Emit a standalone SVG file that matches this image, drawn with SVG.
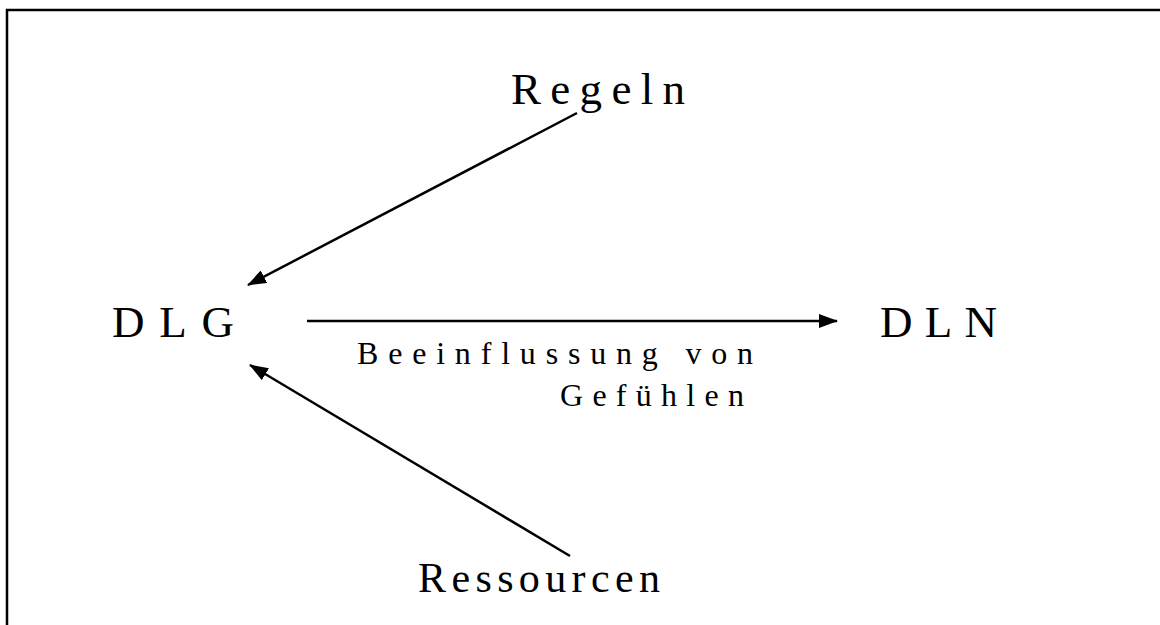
<svg xmlns="http://www.w3.org/2000/svg" width="1160" height="625" viewBox="0 0 1160 625">
<style>
.big{font-family:"Liberation Serif","Times New Roman",serif;font-size:45px;fill:#000}
.small{font-family:"Liberation Serif","Times New Roman",serif;font-size:32px;fill:#000}
.conn{stroke:#000;stroke-width:2.5;fill:none;marker-end:url(#ah)}
</style>
<defs>
<marker id="ah" markerWidth="20" markerHeight="14" refX="18" refY="7" orient="auto" markerUnits="userSpaceOnUse">
<path d="M0,0 L19,7 L0,14 Z" fill="#000"/>
</marker>
</defs>
<rect width="1160" height="625" fill="#fff"/>
<path d="M7,625 V10 H1160" fill="none" stroke="#000" stroke-width="2.5"/>
<g id="connectors">
<line class="conn" x1="577" y1="113" x2="248" y2="285"/>
<line class="conn" x1="307" y1="321" x2="837" y2="321"/>
<line class="conn" x1="570" y1="556" x2="250" y2="365"/>
</g>
<g id="regeln"><text class="big" x="511" y="104" textLength="174" lengthAdjust="spacing">Regeln</text></g>
<g id="dlg"><text class="big" x="112" y="337" textLength="122" lengthAdjust="spacing">DLG</text></g>
<g id="dln"><text class="big" x="880" y="337" textLength="117" lengthAdjust="spacing">DLN</text></g>
<g id="ressourcen"><text class="big" style="font-size:42px" x="418" y="592" textLength="242" lengthAdjust="spacing">Ressourcen</text></g>
<g id="label"><text class="small" x="357" y="364" textLength="396" lengthAdjust="spacing">Beeinflussung von</text>
<text class="small" x="560" y="406" textLength="184" lengthAdjust="spacing">Gefühlen</text></g>
</svg>
